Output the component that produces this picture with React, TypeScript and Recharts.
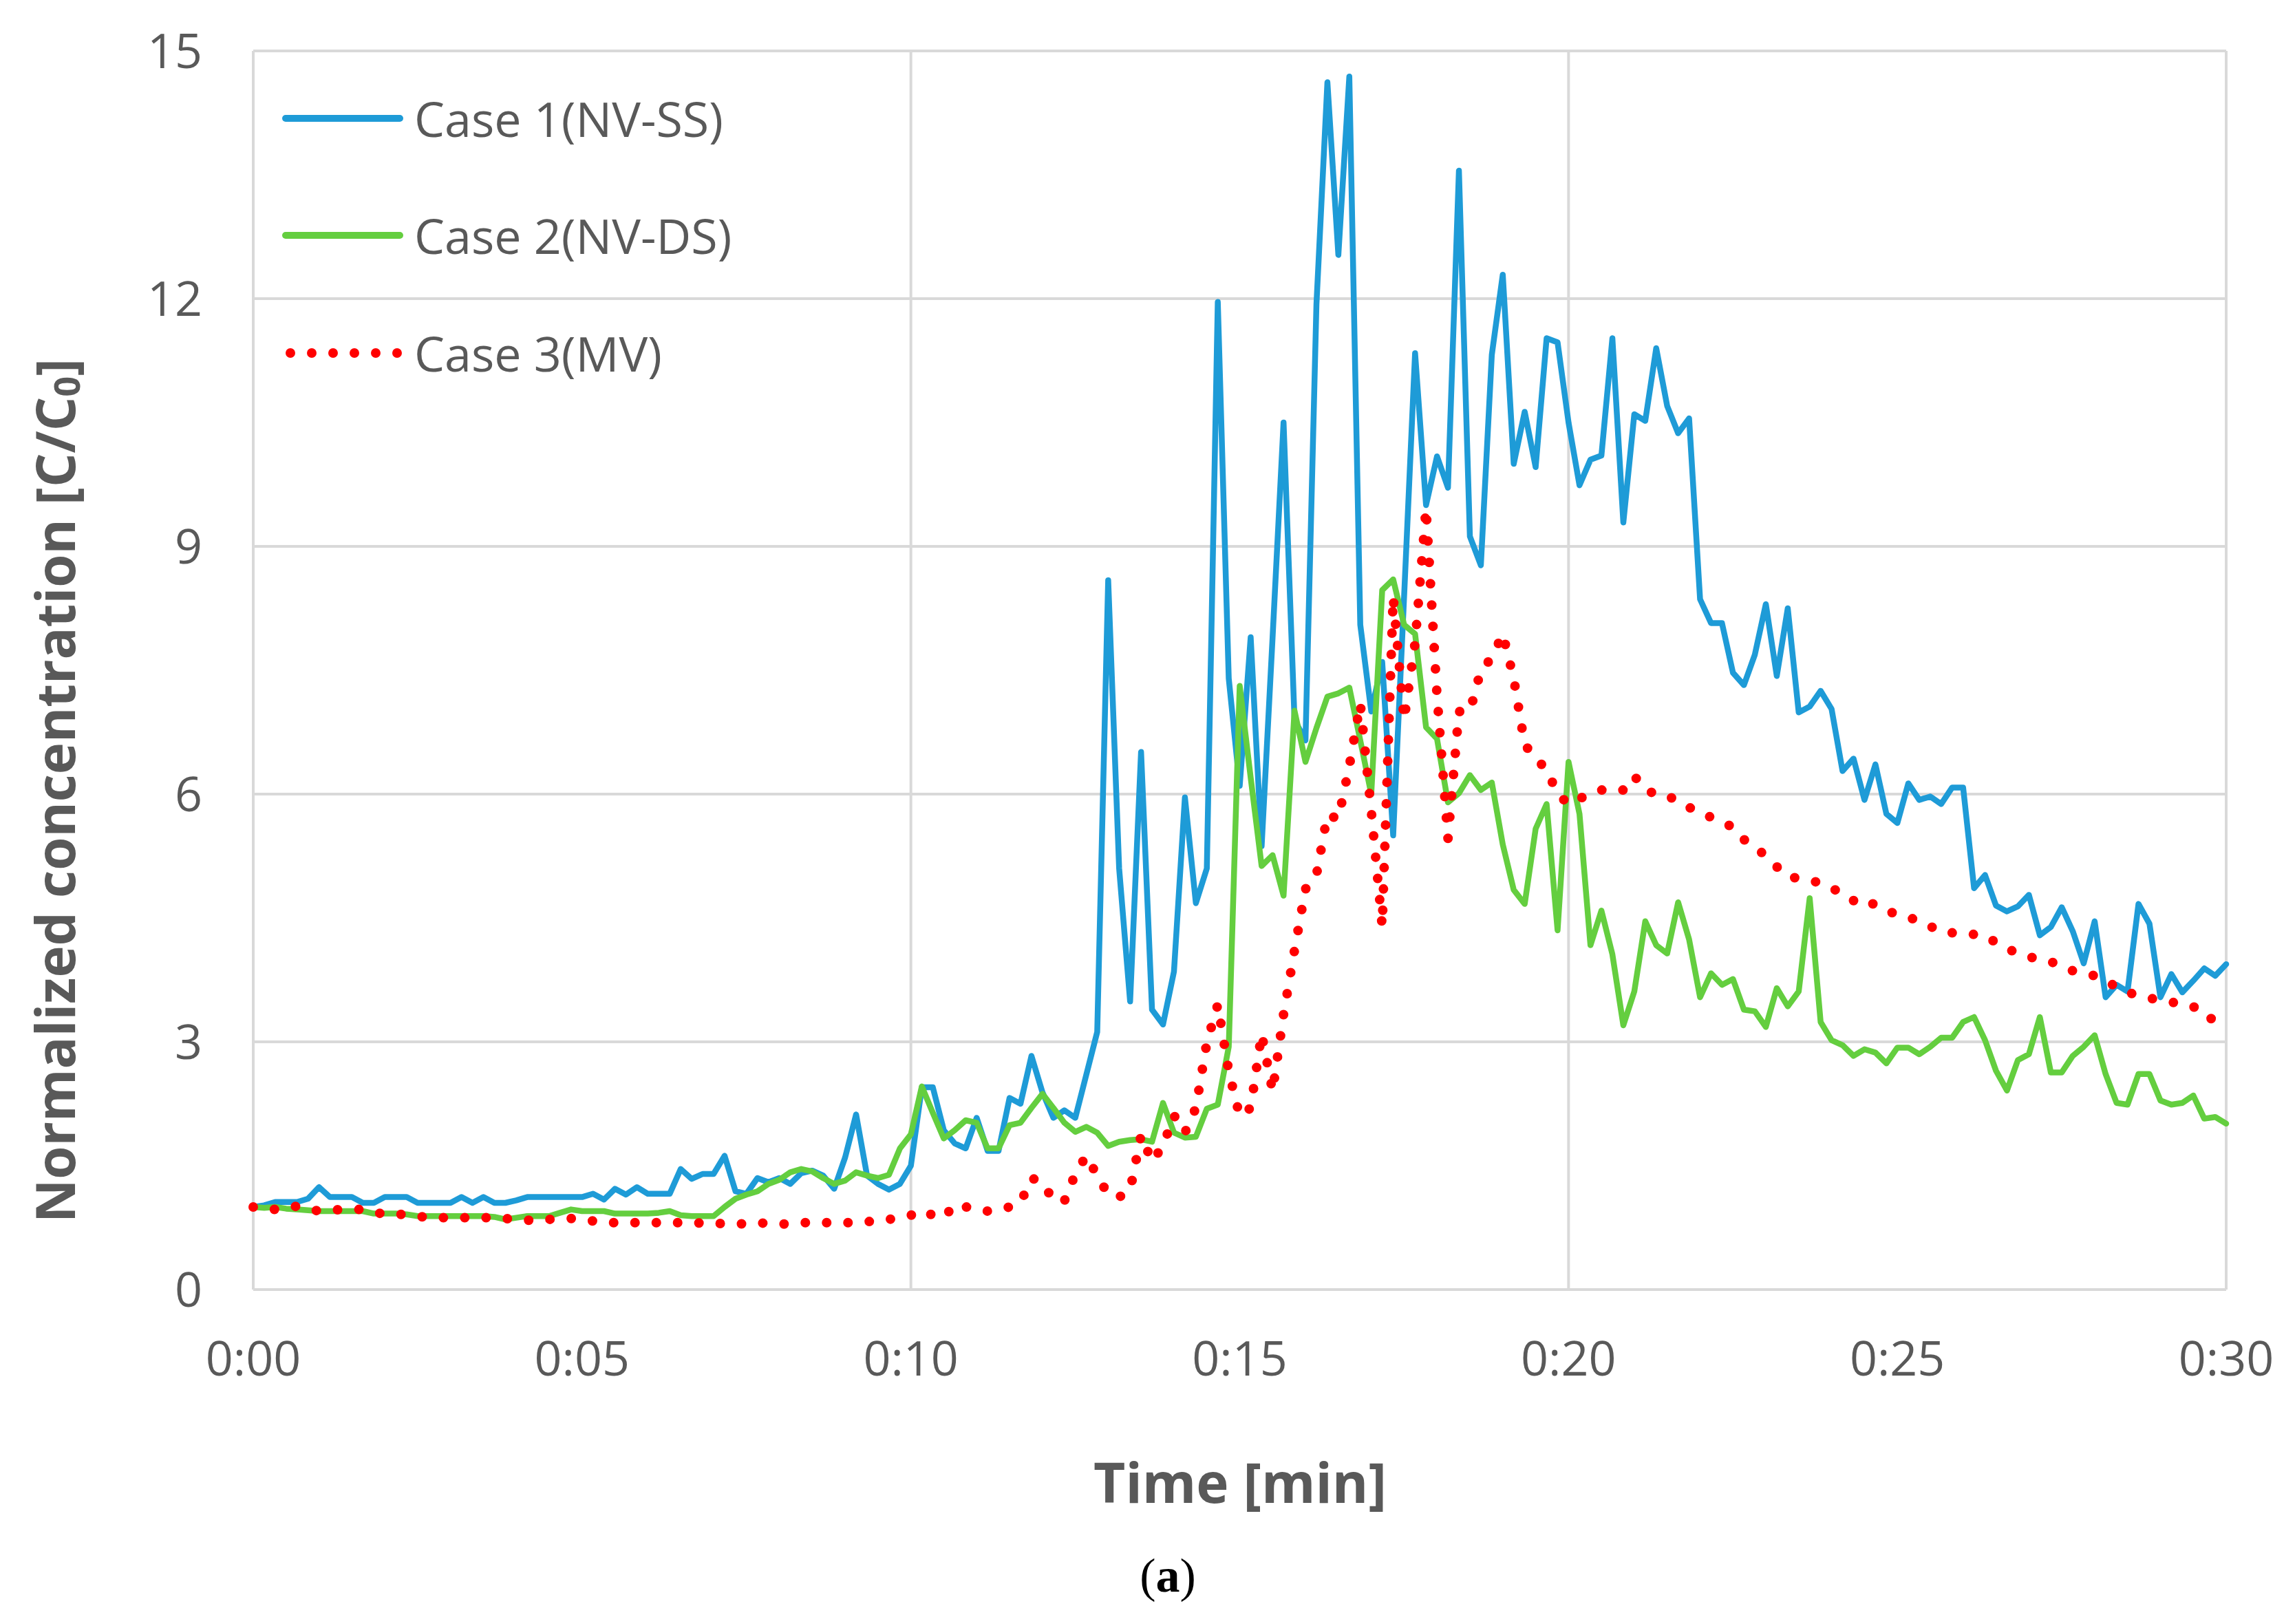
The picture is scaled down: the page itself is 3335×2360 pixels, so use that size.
import { LineChart, Line, XAxis, YAxis, CartesianGrid, Legend } from "recharts";

const W = 3335;
const H = 2360;

// samples every 10 s, index 0..180 = 0:00..0:30
const TIME_TICKS = [0, 30, 60, 90, 120, 150, 180];
const TIME_LABELS = ["0:00", "0:05", "0:10", "0:15", "0:20", "0:25", "0:30"];
const TIME_GRID = [0, 60, 120, 180];
const Y_TICKS = [0, 3, 6, 9, 12, 15];

const CASE1 = [
  1.0, 1.02, 1.06, 1.06, 1.06, 1.1, 1.24, 1.12, 1.12, 1.12,
  1.05, 1.05, 1.12, 1.12, 1.12, 1.05, 1.05, 1.05, 1.05, 1.12,
  1.05, 1.12, 1.05, 1.05, 1.08, 1.12, 1.12, 1.12, 1.12, 1.12,
  1.12, 1.16, 1.09, 1.22, 1.15, 1.24, 1.16, 1.16, 1.16, 1.46,
  1.34, 1.4, 1.4, 1.62, 1.19, 1.16, 1.35, 1.3, 1.35, 1.28,
  1.41, 1.44, 1.38, 1.22, 1.6, 2.12, 1.38, 1.28, 1.21, 1.28,
  1.5, 2.45, 2.45, 1.93, 1.77, 1.71, 2.08, 1.68, 1.68, 2.32,
  2.25, 2.83, 2.39, 2.08, 2.17, 2.08, 2.6, 3.12, 8.59, 5.1,
  3.49, 6.51, 3.39, 3.21, 3.85, 5.96, 4.68, 5.1, 11.96, 7.4,
  6.1, 7.9, 5.37, 7.9, 10.5, 6.9, 6.65, 11.93, 14.62, 12.53,
  14.69, 8.05, 7.0, 7.6, 5.5, 8.4, 11.34, 9.5, 10.09, 9.71,
  13.55, 9.12, 8.77, 11.32, 12.29, 10.0, 10.63, 9.96, 11.52, 11.47,
  10.5, 9.74, 10.05, 10.1, 11.52, 9.29, 10.6, 10.52, 11.4, 10.7,
  10.37, 10.55, 8.36, 8.07, 8.07, 7.47, 7.32, 7.69, 8.3, 7.43,
  8.25, 6.99, 7.06, 7.25, 7.03, 6.28, 6.43, 5.93, 6.36, 5.76,
  5.65, 6.13, 5.93, 5.97, 5.88, 6.08, 6.08, 4.86, 5.02, 4.65,
  4.58, 4.64, 4.78, 4.29, 4.39, 4.63, 4.34, 3.95, 4.46, 3.54,
  3.69, 3.61, 4.67, 4.43, 3.54, 3.82, 3.6, 3.74, 3.89, 3.8,
  3.94,
];

const CASE2 = [
  1.0, 0.99, 1.0, 0.98, 0.97, 0.96, 0.95, 0.95, 0.95, 0.95,
  0.95, 0.92, 0.92, 0.92, 0.91, 0.89, 0.89, 0.89, 0.89, 0.89,
  0.89, 0.89, 0.88, 0.85, 0.87, 0.89, 0.89, 0.89, 0.93, 0.97,
  0.95, 0.95, 0.95, 0.92, 0.92, 0.92, 0.92, 0.93, 0.95, 0.9,
  0.89, 0.89, 0.89, 1.0, 1.1, 1.15, 1.19, 1.28, 1.33, 1.42,
  1.46, 1.43, 1.35, 1.28, 1.32, 1.42, 1.38, 1.35, 1.39, 1.71,
  1.88, 2.46, 2.14, 1.83, 1.93, 2.05, 2.02, 1.71, 1.71, 1.99,
  2.02, 2.2, 2.37, 2.2, 2.02, 1.91, 1.97, 1.9, 1.74, 1.79,
  1.81, 1.82, 1.79, 2.26, 1.9, 1.84, 1.85, 2.19, 2.24, 2.94,
  7.31, 6.2, 5.13, 5.26, 4.77, 7.01, 6.39, 6.8, 7.18, 7.22,
  7.29, 6.65, 6.0, 8.47, 8.6, 8.05, 7.94, 6.81, 6.67, 5.9,
  6.01, 6.23, 6.05, 6.14, 5.39, 4.84, 4.67, 5.58, 5.88, 4.35,
  6.39, 5.76, 4.17, 4.59, 4.06, 3.2, 3.61, 4.46, 4.17, 4.07,
  4.69, 4.24, 3.54, 3.83, 3.69, 3.76, 3.39, 3.37, 3.18, 3.65,
  3.43, 3.61, 4.74, 3.24, 3.02, 2.96, 2.83, 2.91, 2.87, 2.74,
  2.93, 2.93, 2.85, 2.94, 3.05, 3.05, 3.24, 3.3, 3.02, 2.65,
  2.41, 2.78, 2.85, 3.3, 2.63, 2.63, 2.83, 2.94, 3.08, 2.61,
  2.26, 2.24, 2.61, 2.61, 2.29, 2.24, 2.26, 2.35, 2.07, 2.09,
  2.01,
];

const CASE3 = [
  1.0, 0.99, 0.97, 0.99, 1.01, 0.98, 0.95, 0.96, 0.97, 0.97,
  0.97, 0.94, 0.91, 0.91, 0.91, 0.89, 0.87, 0.87, 0.87, 0.87,
  0.87, 0.87, 0.87, 0.86, 0.85, 0.84, 0.84, 0.85, 0.86, 0.86,
  0.85, 0.83, 0.81, 0.81, 0.81, 0.81, 0.81, 0.81, 0.81, 0.81,
  0.8, 0.81, 0.8, 0.8, 0.79, 0.8, 0.81, 0.8, 0.79, 0.8,
  0.81, 0.81, 0.81, 0.81, 0.81, 0.81, 0.82, 0.84, 0.85, 0.87,
  0.9, 0.96, 0.9, 0.87, 1.03, 1.0, 0.99, 0.95, 0.97, 1.0,
  1.05, 1.35, 1.3, 1.08, 1.07, 1.4, 1.62, 1.38, 1.15, 1.12,
  1.2, 1.87, 1.55, 1.74, 2.11, 1.9, 2.2, 2.99, 3.45, 2.64,
  2.1, 2.2, 3.1, 2.4, 3.33, 4.11, 4.85, 5.02, 5.75, 5.7,
  6.34, 7.1, 5.8, 4.4, 8.39, 6.9, 7.83, 9.46, 7.2, 5.46,
  7.0, 7.0, 7.5, 7.65, 7.94, 7.4, 6.6, 6.43, 6.3, 6.0,
  5.88, 5.95, 5.99, 6.05, 6.03, 6.05, 6.22, 6.05, 6.0, 5.99,
  5.9, 5.84, 5.77, 5.72, 5.66, 5.6, 5.45, 5.36, 5.25, 5.12,
  5.0, 4.98, 4.96, 4.92, 4.87, 4.78, 4.71, 4.74, 4.65, 4.58,
  4.55, 4.51, 4.46, 4.4, 4.33, 4.32, 4.32, 4.3, 4.29, 4.2,
  4.13, 4.07, 4.03, 4.0, 3.97, 3.92, 3.86, 3.83, 3.8, 3.73,
  3.67, 3.6, 3.56, 3.53, 3.5, 3.48, 3.46, 3.43, 3.3, 3.27,
  3.2,
];

const SERIES = [
  { key: "case1", name: "Case 1(NV-SS)", color: "#1E9BD7", width: 8.5, dash: undefined },
  { key: "case2", name: "Case 2(NV-DS)", color: "#64CE3F", width: 8.5, dash: undefined },
  { key: "case3", name: "Case 3(MV)", color: "#FF0000", width: 14, dash: "0 31" },
];

const data = CASE1.map((v, i) => ({ t: i, case1: v, case2: CASE2[i], case3: CASE3[i] }));

const TEXT_GREY = "#595959";
const SANS = "'Open Sans', 'Noto Sans', sans-serif";

function LegendBox() {
  const rows = [62, 232, 403];
  return (
    <svg width={760} height={470} style={{ display: "block" }}>
      {SERIES.map((s, i) => (
        <g key={s.key}>
          <line
            x1={s.dash ? 22 : 15}
            x2={181}
            y1={rows[i]}
            y2={rows[i]}
            stroke={s.color}
            strokeWidth={s.dash ? 14 : 10}
            strokeDasharray={s.dash}
            strokeLinecap="round"
          />
          <text
            x={202}
            y={rows[i]}
            dominantBaseline="central"
            fontFamily={SANS}
            fontSize={70}
            fill={TEXT_GREY}
          >
            {s.name}
          </text>
        </g>
      ))}
    </svg>
  );
}

function YTitle() {
  return (
    <text
      x={79}
      y={1149}
      transform="rotate(-90, 79, 1149)"
      textAnchor="middle"
      dominantBaseline="central"
      fontFamily={SANS}
      fontWeight={700}
      fontSize={78}
      fill={TEXT_GREY}
    >
      Normalized concentration [C/C
      <tspan fontSize={52} dy={16}>0</tspan>
      <tspan dy={-16}>]</tspan>
    </text>
  );
}

function XTitle() {
  return (
    <g>
      <text
        x={1802}
        y={2152}
        textAnchor="middle"
        dominantBaseline="central"
        fontFamily={SANS}
        fontWeight={700}
        fontSize={80}
        fill={TEXT_GREY}
      >
        Time [min]
      </text>
      <text
        x={1697}
        y={2289}
        textAnchor="middle"
        dominantBaseline="central"
        fontFamily="'Liberation Serif', 'DejaVu Serif', serif"
        fontSize={70}
        fill="#000"
      >
        (<tspan fontWeight={700}>a</tspan>)
      </text>
    </g>
  );
}

export default function App() {
  return (
    <div style={{ position: "absolute", left: 0, top: 0, width: W, height: H, background: "#fff" }}>
      <LineChart width={W} height={H} data={data} margin={{ top: 74, right: 100, left: 0, bottom: 0 }}>
        <CartesianGrid
          stroke="#d9d9d9"
          strokeWidth={4}
          verticalValues={TIME_GRID}
        />
        <XAxis
          dataKey="t"
          type="number"
          domain={[0, 180]}
          ticks={TIME_TICKS}
          tickFormatter={(v: number) => TIME_LABELS[TIME_TICKS.indexOf(v)] ?? ""}
          tick={{ fill: TEXT_GREY, fontSize: 70, fontFamily: SANS }}
          tickLine={false}
          axisLine={false}
          tickSize={0}
          tickMargin={75}
          height={486}
          interval={0}
          label={<XTitle />}
        />
        <YAxis
          type="number"
          domain={[0, 15]}
          ticks={Y_TICKS}
          tick={{ fill: TEXT_GREY, fontSize: 70, fontFamily: SANS }}
          tickLine={false}
          axisLine={false}
          tickSize={0}
          tickMargin={74}
          width={368}
          interval={0}
          label={<YTitle />}
        />
        <Legend
          layout="vertical"
          align="center"
          verticalAlign="middle"
          wrapperStyle={{ left: 400, top: 110, width: 760, height: 470 }}
          content={() => <LegendBox />}
        />
        {SERIES.map((s) => (
          <Line
            key={s.key}
            dataKey={s.key}
            name={s.name}
            type="linear"
            stroke={s.color}
            strokeWidth={s.width}
            strokeDasharray={s.dash}
            strokeLinecap="round"
            strokeLinejoin="round"
            dot={false}
            activeDot={false}
            isAnimationActive={false}
          />
        ))}
      </LineChart>
    </div>
  );
}
